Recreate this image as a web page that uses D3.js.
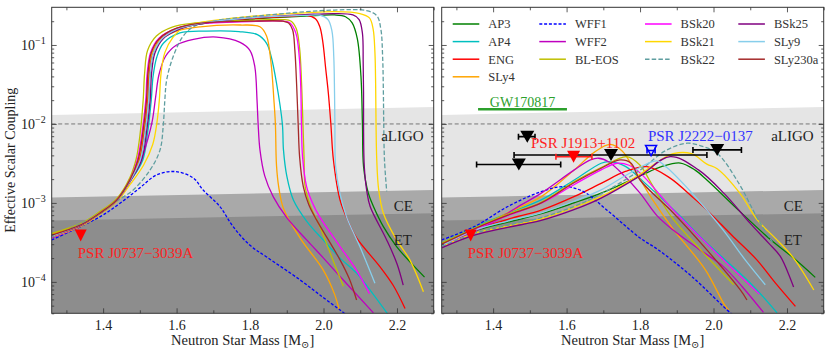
<!DOCTYPE html>
<html>
<head>
<meta charset="utf-8">
<script src="https://cdn.jsdelivr.net/npm/d3@7"></script>
<style>
  body { margin: 0; background: #fff; }
  svg text { font-family: "Liberation Serif", "DejaVu Serif", serif; }
</style>
</head>
<body>
<script>
// axis ranges and ticks
const xDomain = [1.26, 2.3];
const yDomain = [4e-5, 0.3];
const xMajor = [1.4, 1.6, 1.8, 2.0, 2.2];
const xMinor = [1.3, 1.5, 1.7, 1.9, 2.1, 2.3];
const yMajor = [1e-4, 1e-3, 1e-2, 1e-1];
const yMajorExp = ["−4", "−3", "−2", "−1"];

// EOS legend
const eosNames = ["AP3", "AP4", "ENG", "SLy4", "WFF1", "WFF2", "BL-EOS", "BSk20", "BSk21", "BSk22", "BSk25", "SLy9", "SLy230a"];
const eosColors = ["#008000", "#00bfbf", "#ff0000", "#ffa500", "#0000ff", "#bf00bf", "#bfbf00", "#ff00ff", "#ffd700", "#5f9ea0", "#800080", "#87ceeb", "#a52a2a"];
const eosDashed = [false, false, false, false, true, false, false, false, false, true, false, false, false];

// detector sensitivity edges [mass, coupling]
const aligoEdge = [[1.26, 0.0130], [2.3, 0.0164]];
const ceEdge = [[1.26, 1.17e-3], [2.3, 1.46e-3]];
const etEdge = [[1.26, 6.0e-4], [2.3, 7.4e-4]];
const bandNames = ["aLIGO", "CE", "ET"];
const bandLabelY = [6.0e-3, 8.0e-4, 2.9e-4];

// left panel curves [mass, coupling]
const ap3L = [[1.26,3.9e-4],[1.34,5.3e-4],[1.39,7.4e-4],[1.437,1.08e-3],[1.473,1.9e-3],[1.501,3.5e-3],[1.514,7.7e-3],[1.524,0.02],[1.528,0.044],[1.537,0.079],[1.56,0.12],[1.60,0.157],[1.66,0.183],[1.80,0.212],[1.95,0.232],[2.03,0.24],[2.06,0.228],[2.078,0.19],[2.092,0.12],[2.102,0.04],[2.106,0.01],[2.109,2.9e-3],[2.122,1.33e-3],[2.136,9e-4],[2.163,5e-4],[2.199,2.8e-4],[2.24,1.7e-4],[2.275,1.15e-4]];
const ap4L = [[1.26,3.8e-4],[1.34,5.2e-4],[1.39,7.3e-4],[1.437,1.07e-3],[1.473,1.85e-3],[1.508,3.5e-3],[1.521,7.7e-3],[1.531,0.02],[1.536,0.04],[1.546,0.07],[1.564,0.105],[1.609,0.142],[1.68,0.15],[1.77,0.148],[1.82,0.135],[1.845,0.105],[1.858,0.07],[1.872,0.033],[1.888,0.01],[1.891,4.7e-3],[1.90,2.2e-3],[1.918,1.09e-3],[1.955,5.8e-4],[1.999,3.4e-4],[2.045,2.0e-4],[2.09,1.29e-4],[2.135,7e-5],[2.175,3.9e-5]];
const engL = [[1.26,3.9e-4],[1.34,5.3e-4],[1.39,7.4e-4],[1.437,1.09e-3],[1.473,1.95e-3],[1.498,3.5e-3],[1.511,7.7e-3],[1.521,0.02],[1.525,0.044],[1.534,0.079],[1.557,0.121],[1.60,0.16],[1.66,0.187],[1.80,0.215],[1.92,0.232],[1.954,0.238],[1.978,0.215],[1.99,0.17],[1.998,0.11],[2.006,0.05],[2.013,0.025],[2.020,0.01],[2.027,3.5e-3],[2.045,1.09e-3],[2.07,5.5e-4],[2.09,3.6e-4],[2.154,1.55e-4],[2.19,9e-5],[2.222,4.6e-5]];
const sly4L = [[1.26,4.0e-4],[1.34,5.4e-4],[1.39,7.5e-4],[1.437,1.1e-3],[1.473,1.97e-3],[1.496,3.5e-3],[1.509,7.7e-3],[1.519,0.02],[1.523,0.044],[1.532,0.076],[1.555,0.115],[1.60,0.15],[1.664,0.17],[1.773,0.179],[1.827,0.17],[1.845,0.13],[1.857,0.06],[1.865,0.02],[1.869,0.01],[1.872,3.0e-3],[1.878,1.6e-3],[1.891,8.5e-4],[1.936,3.6e-4],[1.999,1.42e-4],[2.03,7e-5],[2.043,4.4e-5]];
const wff1L = [[1.26,3.4e-4],[1.392,6.7e-4],[1.446,9.9e-4],[1.50,1.55e-3],[1.546,2.27e-3],[1.598,2.49e-3],[1.646,2.06e-3],[1.672,1.46e-3],[1.718,8.97e-4],[1.754,5.0e-4],[1.80,2.9e-4],[1.845,2.07e-4],[1.936,1.06e-4],[2.0,6.3e-5],[2.045,4.4e-5],[2.07,3.6e-5]];
const wff2L = [[1.26,3.6e-4],[1.34,5.1e-4],[1.39,7.2e-4],[1.437,1.05e-3],[1.473,1.85e-3],[1.50,3.2e-3],[1.522,6.5e-3],[1.534,0.011],[1.543,0.022],[1.552,0.042],[1.57,0.072],[1.60,0.1],[1.646,0.118],[1.709,0.126],[1.773,0.108],[1.80,0.085],[1.813,0.053],[1.819,0.02],[1.822,0.01],[1.827,4.7e-3],[1.84,2.2e-3],[1.863,1.2e-3],[1.90,6.5e-4],[1.954,3.4e-4],[2.0,2e-4],[2.045,1.17e-4],[2.136,4.05e-5]];
const bleosL = [[1.26,4.1e-4],[1.34,5.5e-4],[1.39,7.7e-4],[1.437,1.13e-3],[1.473,2.1e-3],[1.49,3.6e-3],[1.501,7.7e-3],[1.509,0.02],[1.513,0.044],[1.521,0.085],[1.545,0.13],[1.59,0.17],[1.65,0.19],[1.80,0.205],[1.89,0.21],[1.912,0.2],[1.926,0.16],[1.935,0.09],[1.940,0.035],[1.944,0.01],[1.947,3.8e-3],[1.950,1.61e-3],[1.965,9e-4],[1.99,5.0e-4],[2.02,2.2e-4],[2.054,8.8e-5]];
const bsk20L = [[1.26,3.7e-4],[1.34,5.2e-4],[1.39,7.3e-4],[1.437,1.08e-3],[1.473,1.95e-3],[1.493,3.5e-3],[1.506,7.7e-3],[1.516,0.02],[1.520,0.044],[1.529,0.08],[1.552,0.122],[1.60,0.162],[1.66,0.185],[1.80,0.198],[1.89,0.2],[1.909,0.19],[1.925,0.14],[1.934,0.07],[1.938,0.03],[1.940,0.01],[1.943,3.8e-3],[1.954,1.61e-3],[1.97,1.0e-3],[1.99,6.6e-4],[2.045,2.8e-4],[2.09,1.4e-4],[2.125,7.1e-5]];
const bsk21L = [[1.26,3.7e-4],[1.34,5.1e-4],[1.39,7.1e-4],[1.437,1.03e-3],[1.473,1.7e-3],[1.51,3.0e-3],[1.535,5.5e-3],[1.546,0.01],[1.553,0.02],[1.558,0.045],[1.568,0.08],[1.59,0.125],[1.618,0.165],[1.66,0.19],[1.80,0.23],[1.95,0.255],[2.03,0.264],[2.099,0.25],[2.125,0.22],[2.135,0.16],[2.140,0.08],[2.142,0.03],[2.143,0.01],[2.145,3.5e-3],[2.150,1.5e-3],[2.163,7.4e-4],[2.199,3.4e-4],[2.235,1.9e-4],[2.272,7.5e-5]];
const bsk22L = [[1.26,3.7e-4],[1.39,7.2e-4],[1.437,1.05e-3],[1.482,1.46e-3],[1.528,2.62e-3],[1.555,4.7e-3],[1.564,0.01],[1.568,0.02],[1.573,0.036],[1.591,0.072],[1.618,0.13],[1.646,0.17],[1.70,0.2],[1.85,0.24],[2.03,0.277],[2.117,0.272],[2.145,0.235],[2.156,0.16],[2.161,0.07],[2.163,0.025],[2.164,0.01],[2.166,3.5e-3],[2.172,1.4e-3]];
const bsk25L = [[1.26,3.8e-4],[1.34,5.2e-4],[1.39,7.3e-4],[1.437,1.07e-3],[1.473,1.88e-3],[1.505,3.5e-3],[1.518,7.7e-3],[1.528,0.02],[1.532,0.044],[1.541,0.079],[1.564,0.121],[1.61,0.16],[1.67,0.187],[1.80,0.22],[1.95,0.242],[2.03,0.25],[2.08,0.24],[2.097,0.21],[2.106,0.14],[2.108,0.06],[2.109,0.025],[2.109,0.01],[2.111,2.9e-3],[2.118,1.4e-3],[2.127,9e-4],[2.172,3.4e-4],[2.20,1.7e-4],[2.217,9.1e-5]];
const sly9L = [[1.26,3.8e-4],[1.34,5.3e-4],[1.39,7.4e-4],[1.437,1.08e-3],[1.473,1.9e-3],[1.501,3.5e-3],[1.514,7.7e-3],[1.524,0.02],[1.528,0.044],[1.537,0.079],[1.56,0.12],[1.60,0.158],[1.66,0.186],[1.80,0.22],[1.95,0.237],[1.99,0.238],[2.012,0.21],[2.023,0.15],[2.028,0.07],[2.030,0.025],[2.031,0.01],[2.033,2.9e-3],[2.045,1.3e-3],[2.063,6.6e-4],[2.099,2.8e-4],[2.14,9.6e-5]];
const sly230aL = [[1.26,3.9e-4],[1.34,5.3e-4],[1.39,7.4e-4],[1.437,1.09e-3],[1.473,1.96e-3],[1.495,3.5e-3],[1.508,7.7e-3],[1.518,0.02],[1.522,0.044],[1.531,0.08],[1.554,0.122],[1.60,0.163],[1.66,0.188],[1.80,0.2],[1.89,0.2],[1.905,0.19],[1.916,0.155],[1.922,0.086],[1.927,0.03],[1.931,0.01],[1.935,3.8e-3],[1.945,1.61e-3],[1.96,9.5e-4],[1.981,6.1e-4],[2.045,1.9e-4],[2.07,1.1e-4],[2.09,5.9e-5]];

// right panel curves [mass, coupling]
const ap3R = [[1.26,2.9e-4],[1.349,4.4e-4],[1.44,5.7e-4],[1.531,7.3e-4],[1.62,1.0e-3],[1.694,1.33e-3],[1.80,2.2e-3],[1.86,2.9e-3],[1.91,3.2e-3],[1.95,2.6e-3],[1.982,1.95e-3],[2.073,7.7e-4],[2.15,3.6e-4],[2.218,2.0e-4],[2.277,1.14e-4]];
const ap4R = [[1.26,3.1e-4],[1.349,4.9e-4],[1.44,7.4e-4],[1.531,1.09e-3],[1.621,1.95e-3],[1.694,3.18e-3],[1.715,3.33e-3],[1.76,2.9e-3],[1.809,1.86e-3],[1.90,7.5e-4],[1.982,3.1e-4],[2.10,9.7e-5],[2.173,4.05e-5]];
const engR = [[1.26,2.9e-4],[1.349,4.5e-4],[1.44,6.2e-4],[1.531,8.1e-4],[1.62,1.2e-3],[1.694,1.77e-3],[1.76,2.5e-3],[1.819,2.88e-3],[1.882,2.06e-3],[1.946,1.15e-3],[1.982,8.1e-4],[2.05,3.9e-4],[2.118,1.9e-4],[2.17,9.5e-5],[2.223,4.9e-5]];
const sly4R = [[1.26,3.0e-4],[1.349,4.6e-4],[1.44,7.5e-4],[1.531,1.2e-3],[1.621,2.62e-3],[1.676,4.4e-3],[1.719,5.5e-3],[1.752,4.5e-3],[1.785,2.6e-3],[1.834,1.1e-3],[1.888,4.8e-4],[1.978,1.42e-4],[2.03,5.1e-5],[2.041,4.4e-5]];
const wff1R = [[1.26,3.4e-4],[1.349,5.0e-4],[1.44,9.0e-4],[1.531,1.39e-3],[1.594,1.61e-3],[1.646,1.39e-3],[1.71,8.1e-4],[1.80,3.6e-4],[1.85,2.54e-4],[1.941,1.17e-4],[2.046,4.05e-5],[2.065,3.5e-5]];
const wff2R = [[1.26,2.85e-4],[1.33,4.0e-4],[1.394,5.5e-4],[1.46,8.5e-4],[1.531,1.33e-3],[1.621,2.62e-3],[1.665,3.5e-3],[1.687,3.68e-3],[1.715,3.3e-3],[1.755,2.26e-3],[1.80,1.33e-3],[1.846,6.9e-4],[1.891,4.5e-4],[1.96,2.6e-4],[2.027,1.56e-4],[2.08,8.5e-5],[2.136,4.1e-5]];
const bleosR = [[1.26,3.1e-4],[1.349,4.8e-4],[1.44,7.2e-4],[1.531,1.02e-3],[1.62,1.85e-3],[1.694,2.8e-3],[1.764,3.86e-3],[1.80,3.0e-3],[1.828,1.86e-3],[1.882,7.0e-4],[1.97,2.4e-4],[2.055,9.2e-5]];
const bsk20R = [[1.26,2.9e-4],[1.349,4.6e-4],[1.44,6.9e-4],[1.531,9.9e-4],[1.62,1.7e-3],[1.694,2.62e-3],[1.737,3.18e-3],[1.77,3.0e-3],[1.80,2.4e-3],[1.891,8.1e-4],[2.027,1.9e-4],[2.125,7.0e-5]];
const bsk21R = [[1.26,2.8e-4],[1.349,4.1e-4],[1.44,5.1e-4],[1.531,6.3e-4],[1.62,8.8e-4],[1.694,1.2e-3],[1.80,2.3e-3],[1.86,3.6e-3],[1.89,4.2e-3],[1.94,4.2e-3],[1.982,3.1e-3],[2.01,2.7e-3],[2.073,1.3e-3],[2.119,6.1e-4],[2.17,3.5e-4],[2.218,2.0e-4],[2.273,7.9e-5]];
const bsk22R = [[1.26,2.8e-4],[1.349,4.1e-4],[1.44,5.2e-4],[1.531,6.5e-4],[1.62,9.0e-4],[1.694,1.3e-3],[1.80,2.6e-3],[1.87,4.6e-3],[1.928,5.7e-3],[1.97,5.2e-3],[2.01,4.25e-3],[2.068,1.8e-3],[2.122,6.1e-4],[2.16,3.2e-4]];
const bsk25R = [[1.26,2.7e-4],[1.349,3.9e-4],[1.44,4.9e-4],[1.531,6.0e-4],[1.62,8.2e-4],[1.694,1.15e-3],[1.80,2.2e-3],[1.882,3.86e-3],[1.959,2.62e-3],[2.03,1.3e-3],[2.10,5.5e-4],[2.15,3.1e-4],[2.182,2.1e-4],[2.218,8.6e-5]];
const sly9R = [[1.26,2.9e-4],[1.349,4.5e-4],[1.44,5.9e-4],[1.531,7.5e-4],[1.62,1.05e-3],[1.694,1.46e-3],[1.78,2.5e-3],[1.845,3.4e-3],[1.873,2.8e-3],[1.95,1.2e-3],[2.027,4.5e-4],[2.09,1.8e-4],[2.141,9.2e-5]];
const sly230aR = [[1.26,3.0e-4],[1.349,4.7e-4],[1.44,7.0e-4],[1.531,1.0e-3],[1.62,1.8e-3],[1.694,2.75e-3],[1.745,3.5e-3],[1.775,3.2e-3],[1.80,1.95e-3],[1.89,7.5e-4],[1.982,2.54e-4],[2.073,7.9e-5],[2.091,5.9e-5]];

// pulsar bounds (right panel)
const pulsarMass = [1.493, 1.470, 1.721, 2.010];
const pulsarMassLo = [1.469, 1.355, 1.457, 1.944];
const pulsarMassHi = [1.514, 1.584, 1.982, 2.076];
const pulsarBound = [6.9e-3, 3.07e-3, 4.05e-3, 4.69e-3];
const j1913 = [1.619, 1.571, 1.669, 3.85e-3];
const j2222 = [1.830, 1.819, 1.841, 4.6e-3];
const j0737 = [1.339, 3.87e-4];
const gwMass = [1.359, 1.601];
const gwBound = 0.0153;

const leftCurves = [ap3L, ap4L, engL, sly4L, wff1L, wff2L, bleosL, bsk20L, bsk21L, bsk22L, bsk25L, sly9L, sly230aL];
const rightCurves = [ap3R, ap4R, engR, sly4R, wff1R, wff2R, bleosR, bsk20R, bsk21R, bsk22R, bsk25R, sly9R, sly230aR];

const width = 831, height = 355;
const panelTop = 7.3, panelW = 382, panelH = 306;
const panelLefts = [51.7, 441.7];

const x = d3.scaleLinear().domain(xDomain).range([0, panelW]);
const y = d3.scaleLog().domain(yDomain).range([panelH, 0]);

const svg = d3.select("body").append("svg")
  .attr("width", width)
  .attr("height", height);

const line = d3.line()
  .x(d => x(d[0]))
  .y(d => y(d[1]))
  .curve(d3.curveCatmullRom.alpha(0.5));

const band = d3.area()
  .x(d => x(d[0]))
  .y0(panelH)
  .y1(d => y(d[1]));

function tri(w, h) {
  return `M${-w / 2},${-h / 2}L${w / 2},${-h / 2}L0,${h / 2}Z`;
}

function errorBar(g, m, lo, hi, v, color) {
  g.append("line")
    .attr("x1", x(lo)).attr("x2", x(hi))
    .attr("y1", y(v)).attr("y2", y(v))
    .attr("stroke", color).attr("stroke-width", 1.6);
  [lo, hi].forEach(e => {
    g.append("line")
      .attr("x1", x(e)).attr("x2", x(e))
      .attr("y1", y(v) - 3).attr("y2", y(v) + 3)
      .attr("stroke", color).attr("stroke-width", 1.6);
  });
}

function drawPanel(idx) {
  const curves = idx === 0 ? leftCurves : rightCurves;
  const g = svg.append("g").attr("transform", `translate(${panelLefts[idx]},${panelTop})`);
  const clipId = "clip" + idx;
  g.append("clipPath").attr("id", clipId)
    .append("rect").attr("width", panelW).attr("height", panelH);
  const plot = g.append("g").attr("clip-path", `url(#${clipId})`);

  plot.append("path").datum(aligoEdge).attr("d", band).attr("fill", "#e5e5e5");
  plot.append("path").datum(ceEdge).attr("d", band).attr("fill", "#a9a9a9");
  plot.append("path").datum(etEdge).attr("d", band).attr("fill", "#8d8d8d");

  plot.append("line")
    .attr("x1", 0).attr("x2", panelW)
    .attr("y1", y(1e-2)).attr("y2", y(1e-2))
    .attr("stroke", "#777").attr("stroke-width", 1)
    .attr("stroke-dasharray", "4,2.5");

  // band labels
  bandNames.forEach((name, i) => {
    g.append("text")
      .attr("x", i === 0 ? panelW - 10 : panelW - 40)
      .attr("y", y(bandLabelY[i]))
      .attr("text-anchor", i === 0 ? "end" : "start")
      .attr("font-size", 15)
      .attr("fill", "#222")
      .text(name);
  });

  curves.forEach((c, i) => {
    plot.append("path").datum(c)
      .attr("d", line)
      .attr("fill", "none")
      .attr("stroke", eosColors[i])
      .attr("stroke-width", 1.3)
      .attr("stroke-dasharray", eosDashed[i] ? (i === 4 ? "3,1.8" : "4.5,2.2") : null);
  });

  // PSR J0737-3039A
  plot.append("path")
    .attr("d", tri(12, 12))
    .attr("transform", `translate(${x(j0737[0])},${y(j0737[1])})`)
    .attr("fill", "#ff0000");
  g.append("text")
    .attr("x", x(1.331)).attr("y", y(1.98e-4))
    .attr("font-size", 15).attr("fill", "#f22")
    .text("PSR J0737\u22123039A");

  if (idx === 1) {
    // GW170817
    g.append("line")
      .attr("x1", x(gwMass[0])).attr("x2", x(gwMass[1]))
      .attr("y1", y(gwBound)).attr("y2", y(gwBound))
      .attr("stroke", "#2ca02c").attr("stroke-width", 2.5);
    g.append("text")
      .attr("x", x((gwMass[0] + gwMass[1]) / 2)).attr("y", y(gwBound) - 2.5)
      .attr("text-anchor", "middle").attr("font-size", 14).attr("fill", "#2ca02c")
      .text("GW170817");

    pulsarMass.forEach((m, i) => {
      errorBar(plot, m, pulsarMassLo[i], pulsarMassHi[i], pulsarBound[i], "#000");
      plot.append("path")
        .attr("d", tri(14, 12))
        .attr("transform", `translate(${x(m)},${y(pulsarBound[i])})`)
        .attr("fill", "#000");
    });

    errorBar(plot, j1913[0], j1913[1], j1913[2], j1913[3], "#ff2020");
    plot.append("path")
      .attr("d", tri(13, 12))
      .attr("transform", `translate(${x(j1913[0])},${y(j1913[3])})`)
      .attr("fill", "#ff0000");
    g.append("text")
      .attr("x", x(1.503)).attr("y", y(4.9e-3))
      .attr("font-size", 15).attr("fill", "#f22")
      .text("PSR J1913+1102");

    errorBar(plot, j2222[0], j2222[1], j2222[2], j2222[3], "#0000ff");
    plot.append("path")
      .attr("d", tri(11, 10))
      .attr("transform", `translate(${x(j2222[0])},${y(j2222[3])})`)
      .attr("fill", "none").attr("stroke", "#0000ff").attr("stroke-width", 1.5);
    g.append("text")
      .attr("x", x(1.8215)).attr("y", y(6.08e-3))
      .attr("font-size", 15).attr("fill", "#3333ff")
      .text("PSR J2222\u22120137");

    // legend
    const colX = [11, 97.6, 203.3, 296.6];
    const colStart = [0, 4, 7, 10];
    eosNames.forEach((name, i) => {
      const col = colStart.filter(s => s <= i).length - 1;
      const row = i - colStart[col];
      const ly = 16.7 + row * 17.6;
      const lx = colX[col];
      g.append("line")
        .attr("x1", lx).attr("x2", lx + 26.6)
        .attr("y1", ly).attr("y2", ly)
        .attr("stroke", eosColors[i]).attr("stroke-width", 1.5)
        .attr("stroke-dasharray", eosDashed[i] ? (i === 4 ? "3,1.8" : "4.5,2.2") : null);
      g.append("text")
        .attr("x", lx + 35.6).attr("y", ly)
        .attr("dy", "0.35em")
        .attr("font-size", 12.5).attr("fill", "#333")
        .text(name);
    });
  }

  // ticks (inward, all sides)
  const tickStyle = sel => {
    sel.select(".domain").remove();
    sel.selectAll("line").attr("stroke", "#333").attr("stroke-width", 0.8);
  };
  const bottom = g.append("g").attr("transform", `translate(0,${panelH})`)
    .call(d3.axisBottom(x).tickValues(xMajor).tickSize(-5).tickPadding(7).tickFormat(d3.format(".1f")));
  bottom.call(tickStyle);
  bottom.selectAll("text").attr("font-size", 14).attr("fill", "#222")
    .style("font-family", '"Liberation Serif", serif');
  g.append("g").attr("transform", `translate(0,${panelH})`)
    .call(d3.axisBottom(x).tickValues(xMinor.filter(v => v <= xDomain[1])).tickSize(-3).tickFormat(""))
    .call(tickStyle);
  g.append("g")
    .call(d3.axisTop(x).tickValues(xMajor).tickSize(-5).tickFormat(""))
    .call(tickStyle);
  g.append("g")
    .call(d3.axisTop(x).tickValues(xMinor.filter(v => v <= xDomain[1])).tickSize(-3).tickFormat(""))
    .call(tickStyle);

  const yMinor = [];
  for (let e = -5; e <= -1; e++) {
    for (let k = 2; k <= 9; k++) {
      const v = k * Math.pow(10, e);
      if (v >= yDomain[0] && v <= yDomain[1]) yMinor.push(v);
    }
  }
  [[d3.axisLeft, 0], [d3.axisRight, panelW]].forEach(([ax, tx]) => {
    g.append("g").attr("transform", `translate(${tx},0)`)
      .call(ax(y).tickValues(yMajor).tickSize(-5).tickFormat(""))
      .call(tickStyle);
    g.append("g").attr("transform", `translate(${tx},0)`)
      .call(ax(y).tickValues(yMinor).tickSize(-2.5).tickFormat(""))
      .call(tickStyle);
  });

  if (idx === 0) {
    yMajor.forEach((v, i) => {
      const t = g.append("text")
        .attr("x", -6).attr("y", y(v) + 5)
        .attr("text-anchor", "end")
        .attr("font-size", 14).attr("fill", "#222");
      t.append("tspan").text("10");
      t.append("tspan").attr("dy", -6).attr("font-size", 10).text(yMajorExp[i]);
    });
    g.append("text")
      .attr("transform", `translate(${-37},${panelH / 2}) rotate(-90)`)
      .attr("text-anchor", "middle")
      .attr("font-size", 14).attr("fill", "#222")
      .text("Effective Scalar Coupling");
  }

  // x label
  const xl = g.append("text")
    .attr("x", panelW / 2).attr("y", panelH + 32)
    .attr("text-anchor", "middle")
    .attr("font-size", 14.5).attr("fill", "#222");
  xl.append("tspan").text("Neutron Star Mass [M");
  xl.append("tspan").attr("dy", 3).attr("font-size", 10).text("\u2299");
  xl.append("tspan").attr("dy", -3).text("]");

  // frame
  g.append("rect")
    .attr("width", panelW).attr("height", panelH)
    .attr("fill", "none").attr("stroke", "#333").attr("stroke-width", 1);
}

drawPanel(0);
drawPanel(1);
</script>
</body>
</html>
